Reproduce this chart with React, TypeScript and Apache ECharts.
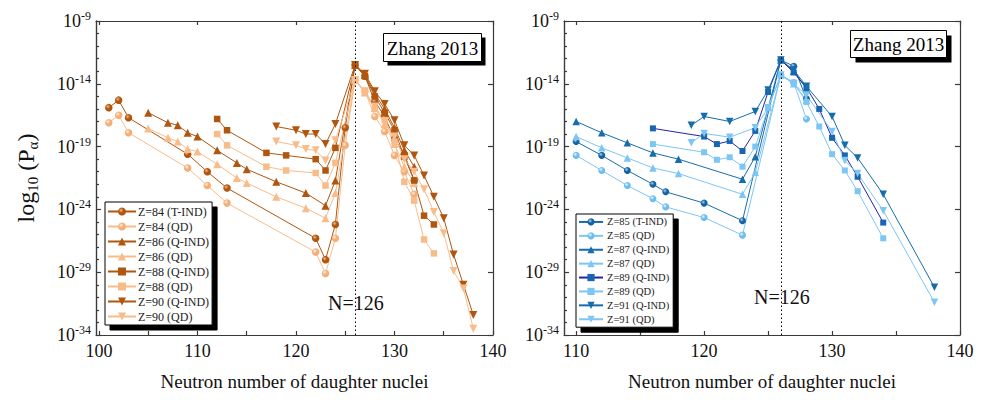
import React, { useEffect, useRef } from 'react';
import * as echarts from 'echarts';

const FONT = '"Liberation Serif", "Times New Roman", Times, serif';

// ---------- Left panel (Z = 84, 86, 88, 90) ----------
const z84TindN = [101, 102, 103, 109, 111, 113, 122, 123, 124, 125, 126, 127, 128, 129, 130, 131, 132];
const z84TindLogP = [-15.9, -15.3, -16.7, -19.6, -21.0, -22.3, -26.3, -28.0, -25.2, -17.5, -12.5, -13.4, -15.4, -16.6, -18.4, -19.6, -21.7];
const z84QdLogP = [-17.1, -16.5, -17.9, -20.7, -22.1, -23.5, -27.4, -29.1, -26.3, -18.9, -13.7, -14.6, -16.6, -17.8, -19.7, -21.0, -22.8];

const z86N = [105, 107, 108, 109, 110, 112, 114, 115, 118, 121, 123, 124, 126, 127, 128, 129, 130, 131, 132];
const z86QindLogP = [-16.3, -17.1, -17.3, -17.9, -18.2, -19.3, -20.3, -20.8, -21.8, -22.7, -23.7, -21.7, -12.5, -13.3, -14.8, -16.0, -17.5, -19.3, -20.6];
const z86QdLogP = [-17.55, -18.3, -18.6, -19.2, -19.4, -20.4, -21.5, -21.9, -23.0, -23.9, -24.7, -22.7, -13.7, -14.7, -15.9, -17.2, -18.8, -20.6, -21.9];

const z88N = [112, 113, 117, 119, 122, 123, 124, 126, 127, 128, 129, 130, 131, 132, 133, 134];
const z88QindLogP = [-16.8, -17.7, -19.5, -19.7, -20.0, -20.9, -19.1, -12.5, -13.4, -15.0, -16.3, -17.7, -19.8, -21.7, -24.5, -25.2];
const z88QdLogP = [-18.0, -18.9, -20.6, -20.9, -21.1, -22.1, -20.3, -13.7, -14.7, -16.0, -16.9, -18.6, -21.8, -23.3, -26.4, -27.5];

const z90N = [118, 120, 121, 122, 123, 124, 126, 127, 128, 129, 130, 131, 132, 133, 134, 135, 136, 137, 138];
const z90QindLogP = [-17.4, -17.7, -18.0, -18.0, -18.8, -17.2, -12.5, -13.2, -14.6, -15.6, -16.9, -18.9, -19.7, -21.3, -23.0, -24.7, -27.6, -30.0, -32.4];
const z90QdLogP = [-18.6, -18.9, -19.2, -19.3, -20.1, -18.5, -13.7, -14.6, -15.8, -17.0, -18.2, -20.0, -21.0, -22.4, -24.2, -25.9, -28.9, -30.3, -33.5];

// ---------- Right panel (Z = 85, 87, 89, 91) ----------
const z85N = [110, 112, 114, 116, 117, 120, 123, 126, 127, 128];
const z85TindLogP = [-18.6, -19.7, -20.9, -22.0, -22.6, -23.5, -24.9, -12.1, -12.6, -15.2];
const z85QdLogP = [-19.7, -20.9, -22.1, -23.15, -23.8, -24.65, -26.05, -13.3, -13.9, -16.8];

const z87N = [110, 112, 114, 116, 118, 123, 124, 126, 127, 128];
const z87QindLogP = [-17.0, -17.9, -18.7, -19.5, -20.0, -21.6, -19.8, -12.1, -13.0, -14.4];
const z87QdLogP = [-18.2, -19.1, -19.9, -20.7, -21.15, -22.8, -21.05, -13.3, -14.0, -15.3];

const z89N = [116, 120, 121, 122, 123, 124, 125, 126, 127, 128, 129, 130, 131, 132, 134];
const z89QindLogP = [-17.55, -18.2, -18.8, -18.55, -19.35, -17.75, -14.65, -12.1, -13.1, -14.3, -16.0, -18.3, -19.7, -21.4, -25.05];
const z89QdLogP = [-18.8, -19.45, -20.05, -19.85, -20.6, -19.0, -15.95, -13.3, -13.9, -15.45, -17.4, -19.6, -20.9, -22.55, -26.3];

const z91N = [119, 120, 122, 124, 125, 126, 127, 128, 130, 131, 132, 134, 138];
const z91QindLogP = [-17.3, -16.6, -17.0, -16.2, -14.5, -12.1, -12.9, -14.2, -16.6, -18.9, -19.9, -22.8, -30.2];
const z91QdLogP = [-18.7, -17.95, -18.25, -17.5, -15.9, -13.3, -14.0, -14.9, -17.8, -20.1, -21.15, -24.1, -31.4];

// ---------- Axis ticks ----------
const leftXLabels = [100, 110, 120, 130, 140];
const leftXTicks = [100, 105, 110, 115, 120, 125, 130, 135, 140];
const rightXLabels = [110, 120, 130, 140];
const rightXTicks = [110, 115, 120, 125, 130, 135, 140];
const yMajor = [-34, -29, -24, -19, -14, -9];
const yMinor = [-33, -32, -31, -30, -28, -27, -26, -25, -23, -22, -21, -20, -18, -17, -16, -15, -13, -12, -11, -10];

const ORANGE_D = '#B0560F';
const ORANGE_L = '#F8BC8B';
const BLUE_D = '#166DAB';
const BLUE_L = '#7CC6F3';
const NAVY = '#2323A8';

const DOWN_TRI = 'path://M0,0L10,0L5,9Z';

const ball = (hi: string, base: string) =>
  new echarts.graphic.RadialGradient(0.38, 0.35, 0.7, [
    { offset: 0, color: hi },
    { offset: 0.45, color: base },
    { offset: 1, color: base },
  ]);

const zip = (xs: number[], ys: number[]) => xs.map((x, i) => [x, ys[i]]);

export default function App() {
  const ref = useRef<HTMLDivElement>(null);

  useEffect(() => {
    if (!ref.current) return;
    const chart = echarts.init(ref.current, undefined, { renderer: 'svg' });

    const mk = (
      name: string,
      xs: number[],
      ys: number[],
      symbol: string,
      size: number,
      fill: any,
      lineColor: string,
      panel: number,
      extra: any = {}
    ) => ({
      name,
      type: 'line',
      xAxisIndex: panel === 0 ? 0 : 2,
      yAxisIndex: panel === 0 ? 0 : 3,
      data: zip(xs, ys),
      symbol,
      symbolSize: size,
      showAllSymbol: true,
      itemStyle: { color: fill, borderWidth: 0 },
      lineStyle: { color: lineColor, width: 1 },
      emphasis: { disabled: true },
      ...extra,
    });

    const vline = (panel: number) => ({
      markLine: {
        silent: true,
        symbol: 'none',
        label: { show: false },
        lineStyle: { type: [1.5, 2.5], color: '#000', width: 1 },
        data: [{ xAxis: 126 }],
      },
    });

    const orangeBallD = ball('#F2B889', ORANGE_D);
    const orangeBallL = ball('#FFF1E4', '#F4AE76');
    const blueBallD = ball('#A6D3F3', '#1463A3');
    const blueBallL = ball('#EEF8FF', '#6DBDEE');

    const leftSeries = [
      mk('Z=84 (T-IND)', z84TindN, z84TindLogP, 'circle', 7.5, orangeBallD, ORANGE_D, 0, vline(0)),
      mk('Z=84 (QD)', z84TindN, z84QdLogP, 'circle', 7.5, orangeBallL, ORANGE_L, 0),
      mk('Z=86 (Q-IND)', z86N, z86QindLogP, 'triangle', 8, ORANGE_D, ORANGE_D, 0),
      mk('Z=86 (QD)', z86N, z86QdLogP, 'triangle', 8, ORANGE_L, ORANGE_L, 0),
      mk('Z=88 (Q-IND)', z88N, z88QindLogP, 'rect', 6.5, ORANGE_D, ORANGE_D, 0),
      mk('Z=88 (QD)', z88N, z88QdLogP, 'rect', 6.5, ORANGE_L, ORANGE_L, 0),
      mk('Z=90 (Q-IND)', z90N, z90QindLogP, DOWN_TRI, 8, ORANGE_D, ORANGE_D, 0),
      mk('Z=90 (QD)', z90N, z90QdLogP, DOWN_TRI, 8, ORANGE_L, ORANGE_L, 0),
    ];
    const rightSeries = [
      mk('Z=85 (T-IND)', z85N, z85TindLogP, 'circle', 7, blueBallD, BLUE_D, 1, vline(1)),
      mk('Z=85 (QD)', z85N, z85QdLogP, 'circle', 7, blueBallL, BLUE_L, 1),
      mk('Z=87 (Q-IND)', z87N, z87QindLogP, 'triangle', 7.5, BLUE_D, BLUE_D, 1),
      mk('Z=87 (QD)', z87N, z87QdLogP, 'triangle', 7.5, BLUE_L, BLUE_L, 1),
      mk('Z=89 (Q-IND)', z89N, z89QindLogP, 'rect', 6, '#1765B3', NAVY, 1),
      mk('Z=89 (QD)', z89N, z89QdLogP, 'rect', 6, BLUE_L, BLUE_L, 1),
      mk('Z=91 (Q-IND)', z91N, z91QindLogP, DOWN_TRI, 7.5, BLUE_D, BLUE_D, 1),
      mk('Z=91 (QD)', z91N, z91QdLogP, DOWN_TRI, 7.5, BLUE_L, BLUE_L, 1),
    ];

    const axisLineStyle = { color: '#3a3a3a', width: 1.2 };
    const tickLabel = { fontFamily: FONT, fontSize: 18, color: '#111' };

    const xBottom = (grid: number, min: number, ticks: number[], labels: number[]) => ({
      type: 'value',
      gridIndex: grid,
      position: 'bottom',
      min,
      max: 140,
      axisLine: { lineStyle: axisLineStyle },
      axisTick: { inside: true, length: 4, customValues: ticks, lineStyle: axisLineStyle },
      axisLabel: { customValues: labels, margin: 7, ...tickLabel },
      splitLine: { show: false },
      name: 'Neutron number of daughter nuclei',
      nameLocation: 'middle',
      nameGap: 37,
      nameTextStyle: { fontFamily: FONT, fontSize: 19, color: '#111' },
    });
    const xTop = (grid: number, min: number, labels: number[]) => ({
      type: 'value',
      gridIndex: grid,
      position: 'top',
      min,
      max: 140,
      axisLine: { lineStyle: axisLineStyle },
      axisTick: { inside: true, length: 4, customValues: labels, lineStyle: axisLineStyle },
      axisLabel: { show: false },
      splitLine: { show: false },
    });
    const yLeft = (grid: number, withName: boolean) => ({
      type: 'value',
      gridIndex: grid,
      position: 'left',
      min: -34,
      max: -9,
      axisLine: { show: true, lineStyle: axisLineStyle },
      axisTick: { show: true, inside: true, length: 5, customValues: yMajor, lineStyle: axisLineStyle },
      axisLabel: {
        customValues: yMajor,
        margin: 5,
        formatter: (v: number) => `{b|10}{s|${v}}`,
        rich: {
          b: { fontFamily: FONT, fontSize: 18, color: '#111', lineHeight: 22 },
          s: { fontFamily: FONT, fontSize: 12, color: '#111', lineHeight: 10, verticalAlign: 'top' },
        },
      },
      splitLine: { show: false },
      ...(withName
        ? {
            name: '{n|log}{sub|10}{n| (P}{sub|α}{n|)}',
            nameLocation: 'middle',
            nameGap: 56,
            nameRotate: 90,
            nameTextStyle: {
              rich: {
                n: { fontFamily: FONT, fontSize: 24, color: '#111', lineHeight: 28 },
                sub: { fontFamily: FONT, fontSize: 15, color: '#111', lineHeight: 14, verticalAlign: 'bottom' },
              },
            },
          }
        : {}),
    });
    const yMinorAxis = (grid: number) => ({
      type: 'value',
      gridIndex: grid,
      position: 'left',
      min: -34,
      max: -9,
      axisLine: { show: true, lineStyle: axisLineStyle },
      axisTick: { show: true, inside: true, length: 3, customValues: yMinor, lineStyle: axisLineStyle },
      axisLabel: { show: false },
      splitLine: { show: false },
    });
    const yRight = (grid: number) => ({
      type: 'value',
      gridIndex: grid,
      position: 'right',
      min: -34,
      max: -9,
      axisLine: { show: true, lineStyle: axisLineStyle },
      axisTick: { show: true, inside: true, length: 5, customValues: yMajor, lineStyle: axisLineStyle },
      axisLabel: { show: false },
      splitLine: { show: false },
    });

    const legendCommon = {
      orient: 'vertical',
      itemGap: 0,
      selectedMode: false,
      backgroundColor: '#fff',
      borderColor: '#000',
      borderWidth: 1,
      borderRadius: 0,
      shadowColor: '#000',
      shadowBlur: 0,
      shadowOffsetX: 5,
      shadowOffsetY: 5,
      align: 'left',
    };

    const option: any = {
      animation: false,
      backgroundColor: '#fff',
      grid: [
        { left: 96, top: 21, width: 397, height: 314, containLabel: false },
        { left: 564, top: 21, width: 396, height: 314, containLabel: false },
      ],
      xAxis: [
        xBottom(0, 99.7, leftXTicks, leftXLabels),
        xTop(0, 99.7, leftXLabels),
        xBottom(1, 109.05, rightXTicks, rightXLabels),
        xTop(1, 109.05, rightXLabels),
      ],
      yAxis: [yLeft(0, true), yMinorAxis(0), yRight(0), yLeft(1, false), yMinorAxis(1), yRight(1)],
      legend: [
        {
          ...legendCommon,
          left: 105,
          top: 202,
          padding: [2, 3, 1, 2],
          itemWidth: 28,
          itemHeight: 10,
          textStyle: { fontFamily: FONT, fontSize: 12, color: '#222', lineHeight: 15, padding: [0, 0, 0, -3] },
          data: leftSeries.map((s) => s.name),
        },
        {
          ...legendCommon,
          left: 576,
          top: 214,
          padding: [1, 4, 1, 2],
          itemWidth: 24,
          itemHeight: 9,
          textStyle: { fontFamily: FONT, fontSize: 10.5, color: '#222', lineHeight: 13.9, padding: [0, 0, 0, -1] },
          data: rightSeries.map((s) => s.name),
        },
      ],
      graphic: [
        { type: 'rect', shape: { x: 387.5, y: 37.5, width: 98, height: 28 }, style: { fill: '#000' }, z: 10 },
        { type: 'rect', shape: { x: 383.5, y: 33.5, width: 98, height: 28 }, style: { fill: '#fff', stroke: '#000', lineWidth: 1 }, z: 11 },
        {
          type: 'text', x: 432.5, y: 48, z: 12,
          style: { text: 'Zhang 2013', fontFamily: FONT, fontSize: 19, fill: '#000', align: 'center', verticalAlign: 'middle' },
        },
        { type: 'rect', shape: { x: 855.5, y: 35.5, width: 96, height: 27 }, style: { fill: '#000' }, z: 10 },
        { type: 'rect', shape: { x: 850.5, y: 30.5, width: 96, height: 27 }, style: { fill: '#fff', stroke: '#000', lineWidth: 1 }, z: 11 },
        {
          type: 'text', x: 898.5, y: 44.5, z: 12,
          style: { text: 'Zhang 2013', fontFamily: FONT, fontSize: 19, fill: '#000', align: 'center', verticalAlign: 'middle' },
        },
        {
          type: 'text', x: 328, y: 303, z: 12,
          style: { text: 'N=126', fontFamily: FONT, fontSize: 20, fill: '#111', align: 'left', verticalAlign: 'middle' },
        },
        {
          type: 'text', x: 754, y: 297, z: 12,
          style: { text: 'N=126', fontFamily: FONT, fontSize: 20, fill: '#111', align: 'left', verticalAlign: 'middle' },
        },
      ],
      series: [...leftSeries, ...rightSeries],
    };

    chart.setOption(option);
    return () => chart.dispose();
  }, []);

  return (
    <div
      ref={ref}
      style={{ position: 'absolute', left: 0, top: 0, width: 989, height: 400, background: '#fff' }}
    />
  );
}
